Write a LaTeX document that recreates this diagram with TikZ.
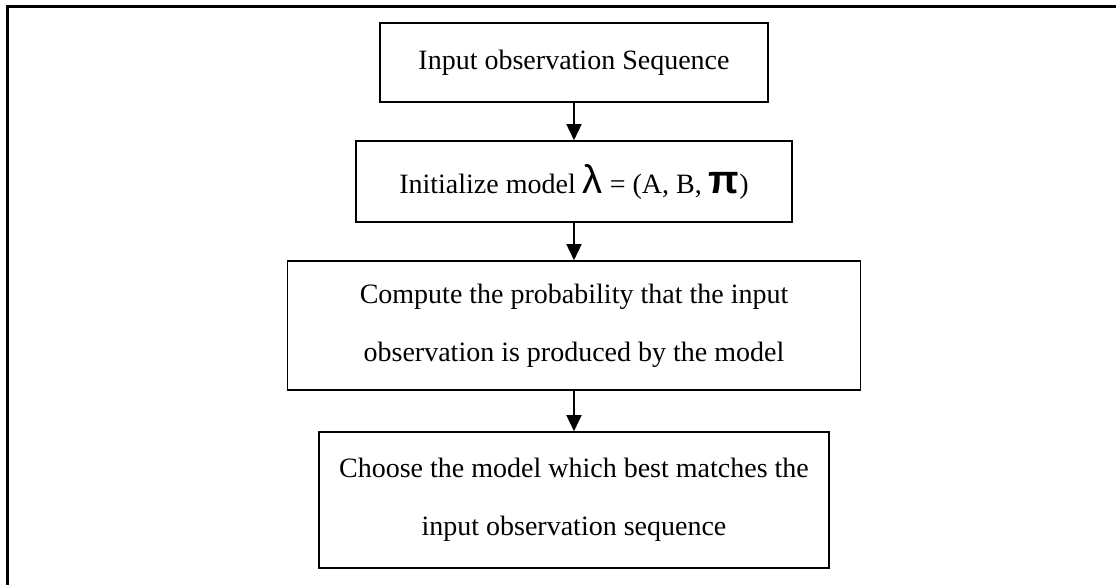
\documentclass[tikz,border=0pt]{standalone}
\usepackage{fontspec}
\setmainfont{Liberation Serif}
\newfontfamily\greekfont{Liberation Sans}
\usetikzlibrary{arrows.meta}
\tikzset{
  stepbox/.style={draw=black, line width=1.6pt, inner sep=0pt, align=center,
    font=\fontsize{28}{58}\selectfont},
  flowarrow/.style={line width=1.6pt, -{Triangle[width=15pt,length=16pt]}},
  frameline/.style={line width=2.2pt}
}
\newcommand{\biglam}{{\greekfont\fontsize{40}{40}\selectfont λ}}
\newcommand{\bigpi}{{\greekfont\bfseries\fontsize{40}{40}\selectfont π}}
\begin{document}
\begin{tikzpicture}[x=1pt,y=-1pt]
\useasboundingbox (0,0) rectangle (1116,585);
\coordinate (fbl) at (7.5,585);
\coordinate (ftl) at (7.5,6.5);
\coordinate (ftr) at (1116,6.5);
\draw[frameline] (fbl) -- (ftl) -- (ftr);

\node[stepbox, minimum width=388pt, minimum height=79pt] (b1) at (574,62.5)
  {Input observation Sequence};
\node[stepbox, minimum width=436pt, minimum height=81pt] (b2) at (574,181.5)
  {Initialize model \biglam\ = (A, B, \bigpi)};
\node[stepbox, minimum width=573pt, minimum height=129pt] (b3) at (574,325.5)
  {Compute the probability that the input\\observation is produced by the model};
\node[stepbox, minimum width=510pt, minimum height=136pt] (b4) at (574,500)
  {Choose the model which best matches the\\input observation sequence};

\draw[flowarrow] (b1.south) -- (b2.north);
\draw[flowarrow] (b2.south) -- (b3.north);
\draw[flowarrow] (b3.south) -- (b4.north);
\end{tikzpicture}
\end{document}
